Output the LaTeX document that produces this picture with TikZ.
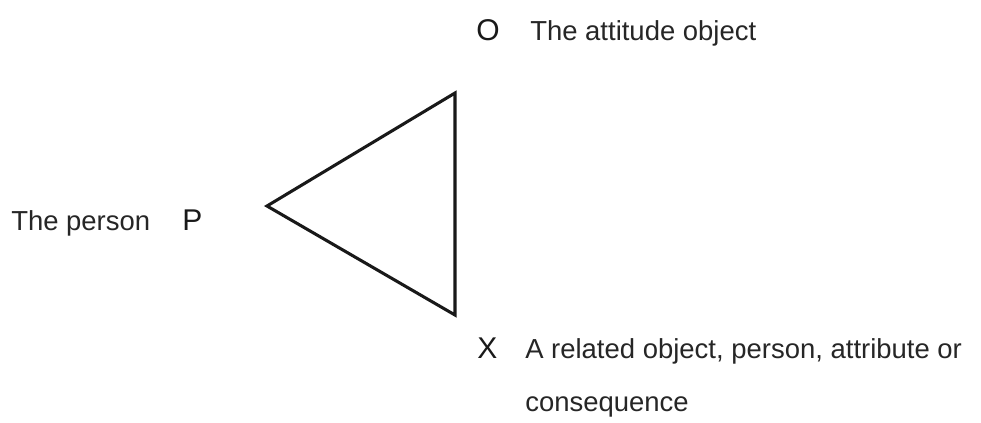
\documentclass[tikz,border=0pt]{standalone}
\usepackage{fontspec}
\setmainfont{Liberation Sans}
\begin{document}
\begin{tikzpicture}[x=0.75pt,y=-0.75pt,
  lbl/.style={anchor=base west,inner sep=0pt,text=black!85,font=\fontsize{20.6pt}{24pt}\selectfont},
  letter/.style={anchor=base west,inner sep=0pt,text=black!90,font=\fontsize{22.5pt}{26pt}\selectfont},
  tri/.style={draw=black!90,line width=2.3pt,line join=miter}]
\useasboundingbox (0,0) rectangle (981,422);
\coordinate (P) at (267,206);
\coordinate (O) at (455,93);
\coordinate (X) at (455,315);
\draw[tri] (P) -- (O) -- (X) -- cycle;
\node[letter] (lO) at (476,40) {O};
\node[lbl] (tO) at (530,40) {The attitude object};
\node[lbl] (tP) at (11,230) {The person};
\node[letter] (lP) at (182,230) {P};
\node[letter] (lX) at (477,358) {X};
\node[lbl] (tX) at (525,358) {A related object, person, attribute or};
\node[lbl] (tX2) at (525,411) {consequence};
\end{tikzpicture}
\end{document}
